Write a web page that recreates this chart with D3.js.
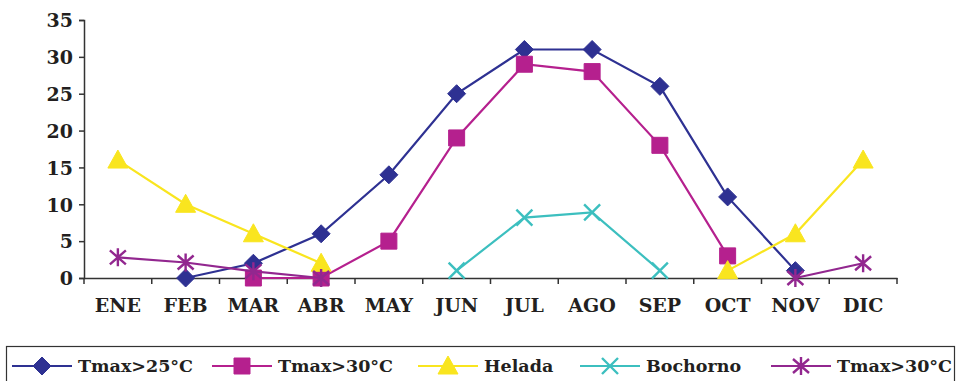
<!DOCTYPE html>
<html>
<head>
<meta charset="utf-8">
<script src="https://cdn.jsdelivr.net/npm/d3@7"></script>
<style>
  html, body { margin: 0; padding: 0; background: #fff; }
  svg { display: block; }
  text { font-family: "DejaVu Serif", serif; font-weight: bold; fill: #231F20; }
</style>
</head>
<body>
<svg id="chart" width="958" height="381"></svg>
<script>
const months = ["ENE","FEB","MAR","ABR","MAY","JUN","JUL","AGO","SEP","OCT","NOV","DIC"];
const yTicks = [0,5,10,15,20,25,30,35];

const tmax25    = [null, 0, 2, 6, 14, 25, 31, 31, 26, 11, 1, null];
const tmax30    = [null, null, 0, 0, 5, 19, 29, 28, 18, 3, null, null];
const helada    = [16, 10, 6, 2, null, null, null, null, null, 1, 6, 16];
const bochorno  = [null, null, null, null, null, 1, 8.2, 8.9, 1, null, null, null];
const tmax30b   = [2.8, 2.1, 0.9, 0, null, null, null, null, null, null, 0, 2];

const seriesNames  = ["Tmax>25°C", "Tmax>30°C", "Helada", "Bochorno", "Tmax>30°C"];
const seriesValues = [tmax25, tmax30, helada, bochorno, tmax30b];
const seriesColors = ["#2E3192", "#B5208E", "#F9E51F", "#3CBFBF", "#92278F"];
const seriesMarkers = ["diamond", "square", "triangle", "cross", "star"];

const svg = d3.select("#chart");
const x = d3.scaleBand().domain(months).range([84, 897]).padding(0);
const y = d3.scaleLinear().domain([0, 35]).range([278, 20]);

// marker path generator centred on (0,0)
function markerPath(type) {
  switch (type) {
    case "diamond": return "M0,-9L9,0L0,9L-9,0Z";
    case "square": return "M-8,-8H8V8H-8Z";
    case "triangle": return "M0,-10L10,8H-10Z";
    case "cross": return "M-8,-8L8,8M-8,8L8,-8";
    case "star": return "M-8,-7L8,7M-8,7L8,-7M0,-9V9";
  }
}
function drawMarker(g, type, color) {
  const filled = type === "diamond" || type === "square" || type === "triangle";
  g.append("path")
    .attr("d", markerPath(type))
    .attr("fill", filled ? color : "none")
    .attr("stroke", color)
    .attr("stroke-width", filled ? 1 : 2.4);
}

// axes
const yAxis = d3.axisLeft(y).tickValues(yTicks).tickSize(5).tickPadding(6);
const gy = svg.append("g").attr("transform", "translate(84,0)").call(yAxis);
gy.select(".domain").attr("stroke", "#333").attr("stroke-width", 1.5);
gy.selectAll(".tick line").attr("stroke", "#333").attr("stroke-width", 1.5);
gy.selectAll(".tick text").style("font-size", "19px").attr("fill", "#231F20")
  .style("font-family", "'DejaVu Serif', serif").style("font-weight", "bold")
  .attr("dy", "0.36em");

const xAxis = d3.axisBottom(x).tickSize(0).tickPadding(21);
const gx = svg.append("g").attr("transform", "translate(0,278)").call(xAxis);
gx.select(".domain").attr("stroke", "#333").attr("stroke-width", 1.5);
gx.selectAll(".tick text").style("font-size", "19px").attr("fill", "#231F20")
  .style("font-family", "'DejaVu Serif', serif").style("font-weight", "bold");
// boundary ticks between categories
gx.selectAll("line.bound")
  .data(months.map(m => x(m)).concat([x.range()[1]]))
  .enter().append("line").attr("class", "bound")
  .attr("x1", d => d).attr("x2", d => d)
  .attr("y1", 0).attr("y2", 6)
  .attr("stroke", "#333").attr("stroke-width", 1.5);

// series lines and markers
const cx = m => x(m) + x.bandwidth() / 2;
seriesValues.forEach((vals, i) => {
  const pts = months.map((m, j) => ({ m, v: vals[j] }));
  const line = d3.line().defined(d => d.v !== null).x(d => cx(d.m)).y(d => y(d.v));
  svg.append("path").datum(pts)
    .attr("d", line).attr("fill", "none")
    .attr("stroke", seriesColors[i]).attr("stroke-width", 2.2);
  pts.filter(d => d.v !== null).forEach(d => {
    const g = svg.append("g").attr("transform", `translate(${cx(d.m)},${y(d.v)})`);
    drawMarker(g, seriesMarkers[i], seriesColors[i]);
  });
});

// legend
const legend = svg.append("g");
legend.append("rect").attr("x", 6.5).attr("y", 346.5).attr("width", 948).attr("height", 40)
  .attr("fill", "#fff").attr("stroke", "#333").attr("stroke-width", 1.2);
const itemX = [12, 212, 418, 580, 771];
seriesNames.forEach((name, i) => {
  const g = legend.append("g").attr("transform", `translate(${itemX[i]},366)`);
  g.append("line").attr("x1", 0).attr("x2", 60).attr("y1", 0).attr("y2", 0)
    .attr("stroke", seriesColors[i]).attr("stroke-width", 2.2);
  const mg = g.append("g").attr("transform", "translate(30,0)");
  drawMarker(mg, seriesMarkers[i], seriesColors[i]);
  g.append("text").attr("x", 66).attr("y", 0).attr("dy", "0.36em")
    .style("font-size", "17.5px").text(name);
});
</script>
</body>
</html>
